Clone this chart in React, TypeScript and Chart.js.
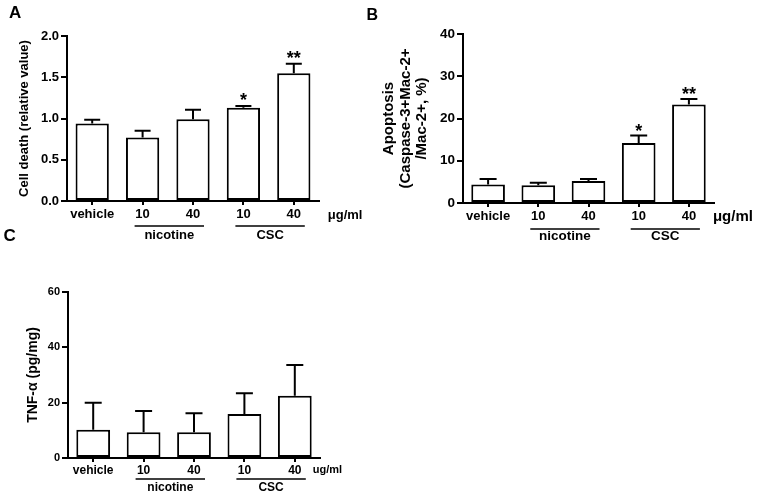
import React, { useEffect, useRef } from "react";
import { Chart, registerables } from "chart.js";

Chart.register(...registerables);

// ---------------- data ----------------
const categories = ["vehicle", "10", "40", "10", "40"];
const groupNames = ["nicotine", "CSC"];
const groupSpans = [
  [1, 2],
  [3, 4],
];

const cellDeathMean = [0.94, 0.77, 0.99, 1.13, 1.55];
const cellDeathErr = [0.045, 0.083, 0.117, 0.023, 0.114];
const cellDeathSig = ["", "", "", "*", "**"];
const cellDeathTicks = [0, 0.5, 1.0, 1.5, 2.0];
const cellDeathTickLabels = ["0.0", "0.5", "1.0", "1.5", "2.0"];

const apoptosisMean = [4.4, 4.2, 5.2, 14.2, 23.3];
const apoptosisErr = [1.3, 0.6, 0.5, 1.75, 1.3];
const apoptosisSig = ["", "", "", "*", "**"];
const apoptosisTicks = [0, 10, 20, 30, 40];
const apoptosisTickLabels = ["0", "10", "20", "30", "40"];

const tnfMean = [10.2, 9.3, 9.3, 15.9, 22.5];
const tnfErr = [9.8, 7.7, 6.9, 7.5, 11.1];
const tnfSig = ["", "", "", "", ""];
const tnfTicks = [0, 20, 40, 60];
const tnfTickLabels = ["0", "20", "40", "60"];

const FONT = "'Liberation Sans', Arial, Helvetica, sans-serif";

type PanelCfg = {
  letter: string;
  unit: string;
  title: string | string[];
  means: number[];
  errs: number[];
  sig: string[];
  ticks: number[];
  tickLabels: string[];
  // layout
  left: number;
  top: number;
  w: number;
  h: number;
  yWidth: number;
  xHeight: number;
  padTop: number;
  padRight: number;
  letterX: number;
  letterY: number;
  letterSize: number;
  yTickSize: number;
  xTickSize: number;
  titleSize: number;
  titleLH: number;
  titlePad: number;
  unitDx: number;
  unitSize: number;
  labelDy: number;
  groupLineDy: number;
  groupTextDy: number;
  groupSize: number;
  capW: number;
  sigDy: number;
  xTickPad: number;
  barPct: number;
};

const annotPlugin = {
  id: "annot",
  afterDraw(chart: any, _args: any, opts: any) {
    const cfg: PanelCfg = opts.cfg;
    if (!cfg) return;
    const ctx = chart.ctx;
    const xs = chart.scales.x;
    const ys = chart.scales.y;
    const bottom = chart.chartArea.bottom;
    ctx.save();
    // error bars + significance
    ctx.strokeStyle = "#000";
    ctx.lineWidth = 2;
    cfg.means.forEach((m, i) => {
      const px = xs.getPixelForValue(i);
      const top = ys.getPixelForValue(m);
      const et = ys.getPixelForValue(m + cfg.errs[i]);
      ctx.beginPath();
      ctx.moveTo(px, top);
      ctx.lineTo(px, et);
      ctx.moveTo(px - cfg.capW / 2, et);
      ctx.lineTo(px + cfg.capW / 2, et);
      ctx.stroke();
      if (cfg.sig[i]) {
        ctx.fillStyle = "#000";
        ctx.font = `bold 18px ${FONT}`;
        ctx.textAlign = "center";
        ctx.textBaseline = "alphabetic";
        ctx.fillText(cfg.sig[i], px, et + cfg.sigDy);
      }
    });
    // unit label
    ctx.fillStyle = "#000";
    ctx.font = `bold ${cfg.unitSize}px ${FONT}`;
    ctx.textAlign = "left";
    ctx.textBaseline = "middle";
    ctx.fillText(cfg.unit, xs.getPixelForValue(categories.length - 1) + cfg.unitDx, bottom + cfg.labelDy);
    // group lines
    ctx.lineWidth = 1.5;
    groupSpans.forEach((span, gi) => {
      const x0 = xs.getPixelForValue(span[0]) - 8;
      const x1 = xs.getPixelForValue(span[1]) + 11;
      const ly = bottom + cfg.groupLineDy;
      ctx.beginPath();
      ctx.moveTo(x0, ly);
      ctx.lineTo(x1, ly);
      ctx.stroke();
      ctx.font = `bold ${cfg.groupSize}px ${FONT}`;
      ctx.textAlign = "center";
      ctx.textBaseline = "alphabetic";
      ctx.fillText(groupNames[gi], (x0 + x1) / 2, bottom + cfg.groupTextDy);
    });
    // panel letter
    ctx.font = `bold ${cfg.letterSize}px ${FONT}`;
    ctx.textAlign = "left";
    ctx.textBaseline = "alphabetic";
    ctx.fillText(cfg.letter, cfg.letterX, cfg.letterY);
    ctx.restore();
  },
};

function Panel({ cfg }: { cfg: PanelCfg }) {
  const ref = useRef<HTMLCanvasElement>(null);
  useEffect(() => {
    if (!ref.current) return;
    const chart = new Chart(ref.current, {
      type: "bar",
      data: {
        labels: categories,
        datasets: [
          {
            data: cfg.means,
            backgroundColor: "#ffffff",
            borderColor: "#000000",
            borderWidth: 2,
            borderSkipped: false,
            barPercentage: cfg.barPct,
            categoryPercentage: 1,
          },
        ],
      },
      options: {
        responsive: false,
        animation: false,
        events: [],
        layout: { padding: { top: cfg.padTop, right: cfg.padRight, left: 0, bottom: 0 } },
        plugins: {
          legend: { display: false },
          tooltip: { enabled: false },
          annot: { cfg },
        } as any,
        scales: {
          x: {
            offset: true,
            afterFit: (s: any) => {
              s.height = cfg.xHeight;
            },
            border: { display: true, color: "#000", width: 2 },
            grid: {
              display: true,
              offset: false,
              drawOnChartArea: false,
              drawTicks: true,
              tickLength: 4,
              color: "#000",
              lineWidth: 2,
            },
            ticks: {
              color: "#000",
              autoSkip: false,
              maxRotation: 0,
              padding: cfg.xTickPad,
              font: { family: FONT, size: cfg.xTickSize, weight: "bold" },
            },
          },
          y: {
            min: cfg.ticks[0],
            max: cfg.ticks[cfg.ticks.length - 1],
            afterBuildTicks: (s: any) => {
              s.ticks = cfg.ticks.map((v) => ({ value: v }));
            },
            afterFit: (s: any) => {
              s.width = cfg.yWidth;
            },
            border: { display: true, color: "#000", width: 2 },
            grid: {
              display: true,
              drawOnChartArea: false,
              drawTicks: true,
              tickLength: 6,
              color: "#000",
              lineWidth: 2,
            },
            ticks: {
              color: "#000",
              padding: 2,
              font: { family: FONT, size: cfg.yTickSize, weight: "bold" },
              callback: (_v: any, i: number) => cfg.tickLabels[i],
            },
            title: {
              display: true,
              text: cfg.title,
              color: "#000",
              font: { family: FONT, size: cfg.titleSize, weight: "bold", lineHeight: cfg.titleLH },
              padding: { top: cfg.titlePad, bottom: 0 },
            },
          },
        },
      } as any,
      plugins: [annotPlugin as any],
    });
    return () => chart.destroy();
  }, []);
  return (
    <canvas
      ref={ref}
      width={cfg.w}
      height={cfg.h}
      style={{ position: "absolute", left: cfg.left, top: cfg.top, width: cfg.w, height: cfg.h }}
    />
  );
}

const panelA: PanelCfg = {
  letter: "A",
  unit: "\u03bcg/ml",
  title: "Cell death (relative value)",
  means: cellDeathMean,
  errs: cellDeathErr,
  sig: cellDeathSig,
  ticks: cellDeathTicks,
  tickLabels: cellDeathTickLabels,
  left: 0,
  top: 0,
  w: 372,
  h: 250,
  yWidth: 67,
  xHeight: 49,
  padTop: 36,
  padRight: 53,
  letterX: 9,
  letterY: 17.5,
  letterSize: 17,
  yTickSize: 13,
  xTickSize: 13,
  titleSize: 13,
  titleLH: 1.2,
  titlePad: 17,
  unitDx: 34,
  unitSize: 13,
  labelDy: 14,
  groupLineDy: 25,
  groupTextDy: 38,
  groupSize: 13,
  capW: 16,
  sigDy: 0,
  xTickPad: 2,
  barPct: 0.66,
};

const panelB: PanelCfg = {
  letter: "B",
  unit: "\u03bcg/ml",
  title: ["Apoptosis", "(Caspase-3+Mac-2+", "/Mac-2+, %)"],
  means: apoptosisMean,
  errs: apoptosisErr,
  sig: apoptosisSig,
  ticks: apoptosisTicks,
  tickLabels: apoptosisTickLabels,
  left: 360,
  top: 0,
  w: 398,
  h: 250,
  yWidth: 103,
  xHeight: 47,
  padTop: 34,
  padRight: 44,
  letterX: 6.5,
  letterY: 20,
  letterSize: 16,
  yTickSize: 13.5,
  xTickSize: 13,
  titleSize: 15,
  titleLH: 1.1,
  titlePad: 21,
  unitDx: 24,
  unitSize: 15,
  labelDy: 13.7,
  groupLineDy: 26,
  groupTextDy: 37,
  groupSize: 13.5,
  capW: 17,
  sigDy: 1,
  xTickPad: 2,
  barPct: 0.67,
};

const panelC: PanelCfg = {
  letter: "C",
  unit: "ug/ml",
  title: "TNF-\u03b1 (pg/mg)",
  means: tnfMean,
  errs: tnfErr,
  sig: tnfSig,
  ticks: tnfTicks,
  tickLabels: tnfTickLabels,
  left: 0,
  top: 220,
  w: 380,
  h: 276,
  yWidth: 68,
  xHeight: 38,
  padTop: 72,
  padRight: 60,
  letterX: 3.5,
  letterY: 20.7,
  letterSize: 17,
  yTickSize: 11,
  xTickSize: 12,
  titleSize: 14,
  titleLH: 1.2,
  titlePad: 24.6,
  unitDx: 18,
  unitSize: 11,
  labelDy: 12.4,
  groupLineDy: 21,
  groupTextDy: 32.5,
  groupSize: 12,
  capW: 17,
  sigDy: 0,
  xTickPad: 1.2,
  barPct: 0.67,
};

export default function App() {
  return (
    <div style={{ position: "absolute", left: 0, top: 0, width: 758, height: 496, background: "#fff" }}>
      <Panel cfg={panelA} />
      <Panel cfg={panelB} />
      <Panel cfg={panelC} />
    </div>
  );
}
